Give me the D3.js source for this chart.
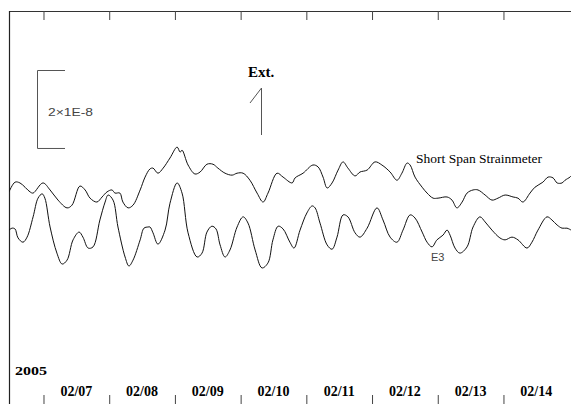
<!DOCTYPE html>
<html>
<head>
<meta charset="utf-8">
<script src="https://cdn.jsdelivr.net/npm/d3@7"></script>
<style>
  html, body { margin: 0; padding: 0; background: #fff; }
  svg { display: block; }
</style>
</head>
<body>
<div id="chart"></div>
<script>
// hours since 2005-02-07 00:00, strain in units of 1E-9 (offset as plotted)
const sssHours = [-12.6, -10.4, -8.6, -4.9, -3.8, -0.2, 2.4, 5.3, 8.6, 10.4, 13.3, 15.2, 17.0, 19.5, 21.4, 23.2, 25.0, 26.1, 27.9, 29.0,
  30.9, 32.7, 35.3, 37.1, 38.9, 40.0, 41.8, 43.7, 46.2, 48.8, 49.9, 50.6, 52.8, 55.3, 57.2, 59.7, 61.9, 63.7, 66.3, 68.9,
  70.7, 72.9, 75.4, 78.0, 80.2, 82.0, 85.3, 87.5, 90.8, 91.9, 94.8, 98.4, 100.3, 102.1, 103.6, 105.4, 107.6, 109.4, 111.2, 113.8,
  115.6, 118.2, 121.1, 123.6, 126.6, 129.1, 130.9, 132.8, 133.9, 135.7, 138.3, 140.1, 142.3, 144.1, 147.4, 149.2, 151.0, 152.9, 154.7, 156.9,
  158.7, 161.3, 163.8, 166.0, 168.6, 171.5, 173.3, 175.1, 177.7, 179.5, 182.4, 184.3, 186.1, 187.6, 189.4, 190.5, 192.3, 192.7];
const sssValues = [22.6, 25.1, 24.9, 22.6, 22.3, 24.9, 23.1, 20.5, 18.5, 19.2, 24.1, 23.1, 21.0, 20.0, 21.3, 22.6, 23.1, 22.3, 22.3, 20.0,
  18.5, 19.2, 23.1, 26.4, 28.5, 28.7, 27.4, 28.7, 31.3, 34.1, 32.8, 33.3, 29.5, 27.2, 27.7, 29.7, 29.7, 28.7, 27.4, 26.9,
  27.4, 27.4, 25.6, 22.3, 20.0, 22.3, 27.4, 26.4, 24.9, 26.2, 27.4, 29.5, 29.0, 26.4, 23.6, 24.9, 28.2, 30.3, 28.7, 26.7,
  27.7, 28.2, 30.3, 29.5, 27.7, 25.6, 27.4, 30.0, 29.5, 26.4, 23.8, 22.3, 21.0, 21.0, 21.3, 20.5, 18.5, 20.0, 22.3, 23.1,
  23.1, 21.8, 20.5, 21.0, 21.8, 21.3, 21.0, 20.0, 22.3, 23.8, 25.1, 26.4, 26.2, 24.9, 24.9, 25.6, 26.4, 26.7];

const e3Hours = [-12.6, -11.5, -10.4, -9.3, -7.5, -6.0, -3.8, -2.0, -0.5, 0.5, 2.4, 4.9, 6.8, 8.6, 10.8, 13.0, 14.4, 16.3, 18.1, 20.6,
  22.5, 23.6, 25.4, 27.2, 29.8, 31.2, 32.7, 35.3, 36.7, 38.2, 38.9, 40.0, 41.8, 44.4, 46.2, 48.8, 50.6, 52.8, 56.1, 57.9,
  59.7, 61.5, 63.0, 64.5, 66.3, 68.1, 70.7, 72.9, 74.7, 77.3, 79.8, 82.0, 83.8, 85.7, 87.5, 90.0, 91.5, 93.7, 96.2, 98.1,
  99.2, 101.0, 103.6, 105.4, 107.2, 109.4, 111.2, 113.8, 115.6, 118.2, 121.8, 124.0, 126.6, 129.1, 131.3, 133.9, 135.7, 138.3, 140.1, 141.9,
  143.7, 145.9, 147.4, 148.5, 150.3, 152.1, 154.7, 156.9, 159.4, 161.3, 163.8, 166.7, 168.6, 171.1, 173.3, 176.6, 178.4, 180.6, 183.9, 185.7,
  187.6, 189.4, 191.2, 192.7];
const e3Values = [12.8, 13.3, 13.1, 10.8, 9.7, 11.0, 16.2, 21.0, 22.1, 21.0, 13.6, 6.9, 4.1, 5.1, 10.3, 12.3, 11.0, 8.2, 8.5, 15.4,
  20.0, 21.8, 20.5, 13.6, 5.9, 3.6, 5.1, 10.3, 13.3, 13.6, 13.6, 12.1, 9.2, 12.8, 19.7, 24.9, 22.3, 12.1, 5.9, 6.9,
  12.3, 13.8, 13.1, 9.0, 5.9, 7.7, 13.6, 16.2, 14.6, 7.7, 3.1, 4.4, 10.3, 13.8, 13.1, 9.7, 8.2, 12.8, 17.2, 19.0,
  18.5, 14.6, 9.0, 7.9, 11.0, 16.7, 16.2, 12.1, 11.0, 13.3, 18.5, 15.4, 11.0, 9.7, 12.8, 16.7, 15.9, 12.3, 9.7, 8.5,
  10.3, 11.5, 12.8, 11.5, 8.2, 6.9, 8.5, 13.6, 16.2, 14.9, 12.8, 10.8, 10.3, 11.0, 10.3, 8.2, 9.7, 12.8, 16.2, 15.4,
  14.1, 13.3, 13.3, 12.8];

const dayLabels = ["02/07", "02/08", "02/09", "02/10", "02/11", "02/12", "02/13", "02/14"];
const yearLabel = "2005";
const scaleBarValue = 20; // 2 x 1E-8 in units of 1E-9

const width = 571;
const height = 404;
const plotLeft = 9, plotRight = 571, plotTop = 11, plotBottom = 404;

const t0 = new Date(2005, 1, 7, 0, 0);
const toDate = h => new Date(t0.getTime() + h * 3600e3);

const x = d3.scaleTime()
    .domain([new Date(2005, 1, 6, 11, 24), new Date(2005, 1, 15, 0, 40)])
    .range([plotLeft, plotRight]);

const y = d3.scaleLinear()
    .domain([-31.8, 69.0])
    .range([plotBottom, plotTop]);

const svg = d3.select("#chart")
    .append("svg")
    .attr("width", width)
    .attr("height", height)
    .attr("viewBox", `0 0 ${width} ${height}`);

svg.append("defs").append("clipPath")
    .attr("id", "plot-clip")
    .append("rect")
    .attr("x", plotLeft).attr("y", plotTop)
    .attr("width", plotRight - plotLeft).attr("height", plotBottom - plotTop);

// frame (top and left)
svg.append("line")
    .attr("x1", plotLeft).attr("x2", plotRight).attr("y1", plotTop + 0.5).attr("y2", plotTop + 0.5)
    .attr("stroke", "#333").attr("stroke-width", 1);
svg.append("line")
    .attr("x1", plotLeft + 0.5).attr("x2", plotLeft + 0.5).attr("y1", plotTop).attr("y2", plotBottom)
    .attr("stroke", "#222").attr("stroke-width", 1.2);

// day ticks
const dayTicks = d3.timeDay.range(new Date(2005, 1, 7), new Date(2005, 1, 15));

const topAxis = svg.append("g")
    .attr("transform", `translate(0,${plotTop})`)
    .call(d3.axisTop(x).tickValues(dayTicks).tickSize(-9).tickFormat(""));
topAxis.select(".domain").remove();
topAxis.selectAll(".tick line").attr("stroke", "#444");

const bottomAxis = svg.append("g")
    .attr("transform", `translate(0,${plotBottom})`)
    .call(d3.axisBottom(x).tickValues(dayTicks).tickSize(-9).tickFormat(""));
bottomAxis.select(".domain").remove();
bottomAxis.selectAll(".tick line").attr("stroke", "#444");

// day labels centered between ticks
svg.append("g")
    .selectAll("text")
    .data(dayLabels)
    .join("text")
    .attr("x", (d, i) => x(d3.timeHour.offset(dayTicks[i], 12)))
    .attr("y", 396)
    .attr("text-anchor", "middle")
    .style("font-family", "'Liberation Serif', 'Times New Roman', serif")
    .style("font-weight", "bold")
    .style("font-size", "14px")
    .text(d => d);

svg.append("text")
    .attr("x", 15)
    .attr("y", 375)
    .attr("textLength", 32)
    .attr("lengthAdjust", "spacingAndGlyphs")
    .style("font-family", "'Liberation Serif', 'Times New Roman', serif")
    .style("font-weight", "bold")
    .style("font-size", "13px")
    .text(yearLabel);

// series
const line = d3.line()
    .x(d => x(d[0]))
    .y(d => y(d[1]))
    .curve(d3.curveCatmullRom.alpha(0.5));

const sss = sssHours.map((h, i) => [toDate(h), sssValues[i]]);
const e3 = e3Hours.map((h, i) => [toDate(h), e3Values[i]]);

const plot = svg.append("g").attr("clip-path", "url(#plot-clip)");
[sss, e3].forEach(series => {
    plot.append("path")
        .datum(series)
        .attr("fill", "none")
        .attr("stroke", "#111")
        .attr("stroke-width", 1)
        .attr("stroke-linejoin", "round")
        .attr("d", line);
});

svg.append("text")
    .attr("x", 416)
    .attr("y", 163)
    .style("font-family", "'Liberation Serif', 'Times New Roman', serif")
    .style("font-size", "13.5px")
    .text("Short Span Strainmeter");

svg.append("text")
    .attr("x", 431)
    .attr("y", 261)
    .style("font-family", "'Liberation Sans', Arial, sans-serif")
    .style("font-size", "11px")
    .attr("fill", "#444")
    .text("E3");

// scale bar: 2 x 1E-8
const barTop = 70.5;
const barH = y(0) - y(scaleBarValue);
const bar = svg.append("g").attr("stroke", "#555").attr("stroke-width", 1).attr("fill", "none");
bar.append("path")
    .attr("d", `M65,${barTop} H37.5 V${barTop + barH} H65`);

svg.append("text")
    .attr("x", 48)
    .attr("y", 116)
    .attr("textLength", 45)
    .attr("lengthAdjust", "spacingAndGlyphs")
    .style("font-family", "'Liberation Sans', Arial, sans-serif")
    .style("font-size", "10px")
    .attr("fill", "#444")
    .text("2×1E-8");

// extension arrow
svg.append("text")
    .attr("x", 248)
    .attr("y", 77)
    .style("font-family", "'Liberation Serif', 'Times New Roman', serif")
    .style("font-weight", "bold")
    .style("font-size", "15px")
    .text("Ext.");

svg.append("path")
    .attr("d", "M250,103 L261.5,88 V135")
    .attr("fill", "none")
    .attr("stroke", "#555")
    .attr("stroke-width", 1);
</script>
</body>
</html>
